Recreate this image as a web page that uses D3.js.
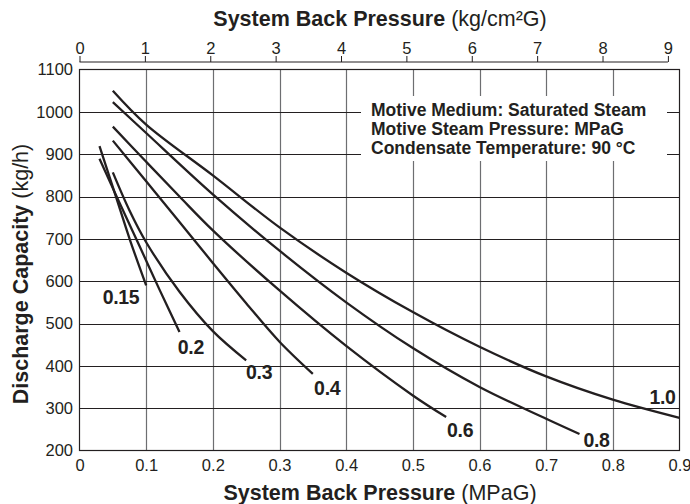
<!DOCTYPE html>
<html><head><meta charset="utf-8">
<script src="https://cdn.jsdelivr.net/npm/d3@7"></script>
<style>
html,body{margin:0;padding:0;background:#fff;}
svg{display:block;font-family:"Liberation Sans",Arial,Helvetica,sans-serif;}
</style></head>
<body><svg id="c" width="690" height="504"></svg>
<script>
// ---- data ----
const xTicksMPa = [0,0.1,0.2,0.3,0.4,0.5,0.6,0.7,0.8,0.9];
const xTickLabelsMPa = ["0","0.1","0.2","0.3","0.4","0.5","0.6","0.7","0.8","0.9"];
const xTicksKg = [0,1,2,3,4,5,6,7,8,9];
const yTicks = [200,300,400,500,600,700,800,900,1000,1100];
const seriesNames = ["0.15","0.2","0.3","0.4","0.6","0.8","1.0"];

const bp015 = [0.03,0.055,0.076,0.1];
const cap015 = [919,798,696,590];
const bp02 = [0.03,0.06,0.09,0.12,0.15];
const cap02 = [889,785,683,580,480];
const bp03 = [0.05,0.075,0.1,0.15,0.2,0.25];
const cap03 = [857,767,692,575,482,413];
const bp04 = [0.05,0.1,0.15,0.2,0.25,0.3,0.35];
const cap04 = [932,836,740,643,548,457,381];
const bp06 = [0.05,0.1,0.15,0.2,0.3,0.4,0.5,0.55];
const cap06 = [965,882,800,720,578,447,330,279];
const bp08 = [0.05,0.1,0.2,0.3,0.4,0.5,0.6,0.7,0.75];
const cap08 = [1023,950,805,672,550,442,350,275,239];
const bp10 = [0.05,0.1,0.2,0.3,0.4,0.5,0.6,0.7,0.8,0.9];
const cap10 = [1050,970,850,727,620,527,445,375,320,277];

const labelBp = [0.0623,0.167,0.2695,0.3716,0.571,0.7755,0.8746];
const labelCap = [547,429,368,332,233,209,309];

const legendLines = ["Motive Medium: Saturated Steam","Motive Steam Pressure: MPaG","Condensate Temperature: 90 °C"];

// ---- drawing ----
const MPA_PER_KG = 0.0980665;
const svg = d3.select("#c");
const L = 79.5, R = 679.5, T = 69.5, B = 450.5;
const x = d3.scaleLinear().domain([0,0.9]).range([L,R]);
const xk = d3.scaleLinear().domain([0,0.9/MPA_PER_KG]).range([L,R]);
const y = d3.scaleLinear().domain([200,1100]).range([B,T]);
const ink = "#231f20", grid = "#6d6e71";
const FONT = "Liberation Sans, Arial, sans-serif";

// grid
svg.append("g").selectAll("line").data(xTicksMPa.slice(1,-1)).join("line")
  .attr("x1",d=>Math.round(x(d))+0.5).attr("x2",d=>Math.round(x(d))+0.5)
  .attr("y1",T).attr("y2",B).attr("stroke",grid).attr("stroke-width",1.2);
svg.append("g").selectAll("line").data(yTicks.slice(1,-1)).join("line")
  .attr("y1",d=>Math.round(y(d))+0.5).attr("y2",d=>Math.round(y(d))+0.5)
  .attr("x1",L).attr("x2",R).attr("stroke",ink).attr("stroke-width",1.1);

// legend
const lg = svg.append("g");
lg.append("rect").attr("x",361).attr("y",96).attr("width",306).attr("height",65).attr("fill","#fff");
lg.selectAll("text").data(legendLines).join("text")
  .attr("x",371).attr("y",(d,i)=>115.5+i*19)
  .attr("font-size",17.5).attr("font-weight","bold").attr("fill",ink).text(d=>d);

// frame
svg.append("rect").attr("x",L).attr("y",T).attr("width",R-L).attr("height",B-T)
  .attr("fill","none").attr("stroke",ink).attr("stroke-width",1.2);

// axes
const axB = svg.append("g").attr("transform",`translate(0,${B})`)
  .call(d3.axisBottom(x).tickValues(xTicksMPa).tickFormat((d,i)=>xTickLabelsMPa[i]).tickSize(0).tickPadding(9));
axB.select(".domain").remove();
axB.selectAll("text").attr("font-size",16.5).attr("fill",ink).attr("font-family",FONT);

const axL = svg.append("g").attr("transform",`translate(${L},0)`)
  .call(d3.axisLeft(y).tickValues(yTicks).tickFormat(d3.format("d")).tickSize(0).tickPadding(6.5));
axL.select(".domain").remove();
axL.selectAll("text").attr("font-size",16.5).attr("fill",ink).attr("font-family",FONT);

const axT = svg.append("g").attr("transform","translate(0,62)")
  .call(d3.axisTop(xk).tickValues(xTicksKg).tickSize(6).tickPadding(2).tickSizeOuter(0));
axT.select(".domain").attr("d",`M${xk(0)},0H${xk(9)}`).attr("stroke",ink);
axT.selectAll(".tick line").attr("stroke",ink);
axT.selectAll("text").attr("font-size",16.5).attr("fill",ink).attr("font-family",FONT);

// titles
const tt = svg.append("text").attr("x",380).attr("y",26).attr("text-anchor","middle").attr("fill",ink).attr("font-size",21.5);
tt.append("tspan").attr("font-weight","bold").text("System Back Pressure ");
tt.append("tspan").text("(kg/cm²G)");
const bt = svg.append("text").attr("x",380).attr("y",500).attr("text-anchor","middle").attr("fill",ink).attr("font-size",21.5);
bt.append("tspan").attr("font-weight","bold").text("System Back Pressure ");
bt.append("tspan").text("(MPaG)");
const yt = svg.append("text").attr("transform","translate(28,274) rotate(-90)").attr("text-anchor","middle").attr("fill",ink).attr("font-size",21.5);
yt.append("tspan").attr("font-weight","bold").text("Discharge Capacity ");
yt.append("tspan").text("(kg/h)");

// curves
const seriesX = [bp015,bp02,bp03,bp04,bp06,bp08,bp10];
const seriesY = [cap015,cap02,cap03,cap04,cap06,cap08,cap10];
const line = d3.line().x(d=>x(d[0])).y(d=>y(d[1])).curve(d3.curveCatmullRom.alpha(0.5));
svg.append("g").selectAll("path").data(seriesNames).join("path")
  .attr("d",(d,i)=>line(d3.zip(seriesX[i],seriesY[i])))
  .attr("fill","none").attr("stroke",ink).attr("stroke-width",2.3);

// curve labels
svg.append("g").selectAll("text").data(seriesNames).join("text")
  .attr("x",(d,i)=>x(labelBp[i])).attr("y",(d,i)=>y(labelCap[i]))
  .attr("text-anchor","middle").attr("font-size",19.5).attr("font-weight","bold")
  .attr("letter-spacing",-0.3).attr("fill",ink).text(d=>d);
</script></body></html>
